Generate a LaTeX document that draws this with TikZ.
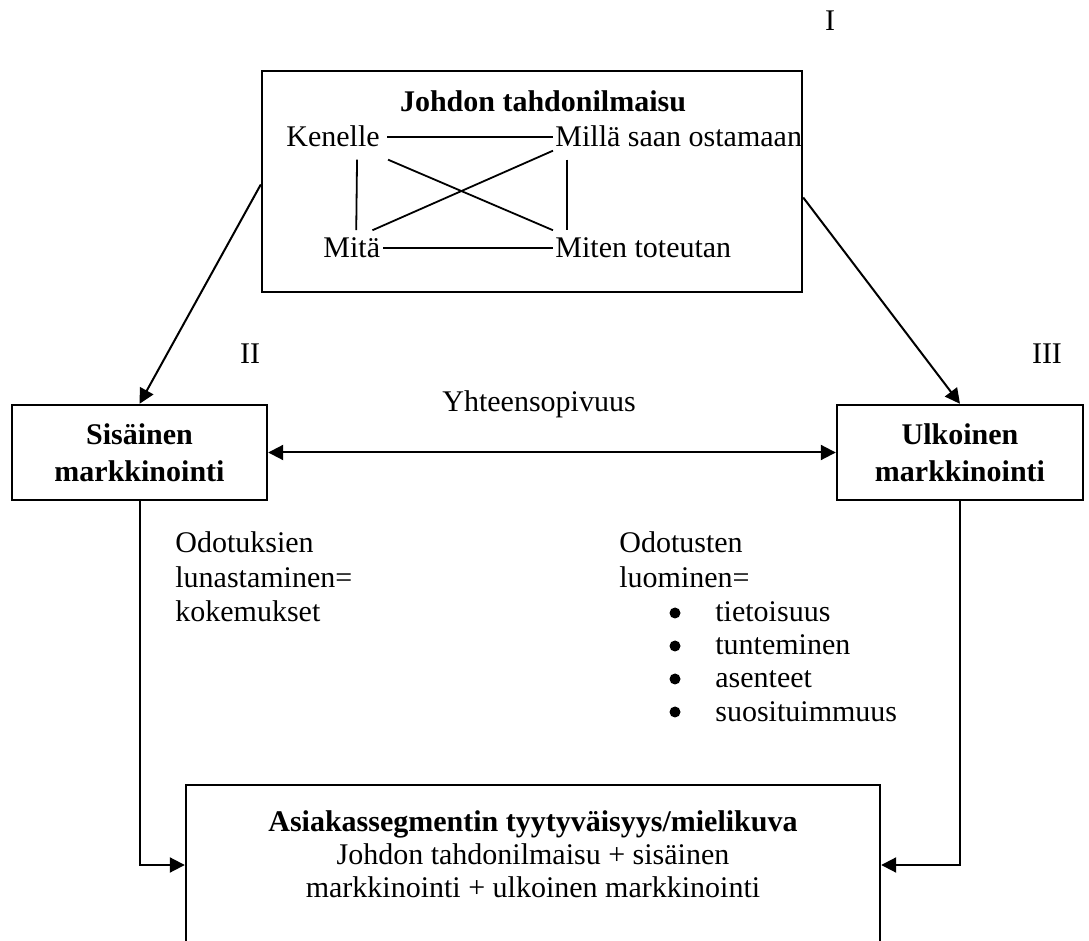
\documentclass[tikz,border=0pt]{standalone}
\usepackage{fontspec}
\setmainfont{Liberation Serif}
\usetikzlibrary{arrows.meta}
\begin{document}
\begin{tikzpicture}[x=0.5pt,y=-0.5pt,
  every node/.style={font=\fontsize{15}{18.5}\selectfont, inner sep=0pt},
  box/.style={draw, line width=1.2pt, rectangle},
  link/.style={line width=0.9pt},
  arr/.style={line width=1pt, -{Triangle[length=7.5pt,width=7.5pt]}},
  dbl/.style={line width=1pt, {Triangle[length=7.5pt,width=7.5pt]}-{Triangle[length=7.5pt,width=7.5pt]}},
  lbl/.style={anchor=base west},
  bul/.style={circle, fill, minimum size=5.5pt},
]
\useasboundingbox (0,0) rectangle (1089,941);

% level numbers
\node[anchor=base] (numI) at (830,31) {I};
\node[anchor=base] (numII) at (250,364) {II};
\node[anchor=base] (numIII) at (1047,364) {III};

% management box with the four questions
\node[box, minimum width=270pt, minimum height=110.5pt] (topbox) at (532,181.5) {};
\node[anchor=base] (ttl) at (543,112) {\textbf{Johdon tahdonilmaisu}};
\node[lbl] (ken) at (286,147) {Kenelle};
\node[lbl] (mil) at (555,147) {Millä saan ostamaan};
\node[lbl] (mita) at (323,258) {Mitä};
\node[lbl] (mit) at (555,258) {Miten toteutan};

\draw[link] ([xshift=3.5pt]ken.east) -- ([xshift=-1pt]mil.west);
\draw[link] ([xshift=1.5pt]mita.east) -- ([xshift=-1pt]mit.west);
\draw[link] ([xshift=12pt,yshift=-6pt]ken.south) -- ([xshift=2.25pt,yshift=3.75pt]mita.north);
\draw[link] ([xshift=6pt,yshift=-6pt]mil.south west) -- ([xshift=6pt,yshift=3.75pt]mit.north west);
\draw[link] ([xshift=4pt,yshift=-6pt]ken.south east) -- ([xshift=-1pt,yshift=3.75pt]mit.north west);
\draw[link] ([xshift=-1pt,yshift=-1.5pt]mil.south west) -- ([xshift=-4pt,yshift=3.75pt]mita.north east);

% marketing boxes
\node[box, minimum width=127.5pt, minimum height=47.5pt, align=center] (sis) at (139.5,452.5)
  {\textbf{Sisäinen}\\\textbf{markkinointi}};
\node[box, minimum width=123pt, minimum height=47.5pt, align=center] (ulk) at (960,452.5)
  {\textbf{Ulkoinen}\\\textbf{markkinointi}};
\node[lbl] (yht) at (442,412) {Yhteensopivuus};

% customer segment box
\node[box, minimum width=347pt, minimum height=80pt] (bot) at (533,865) {};
\node[anchor=base] (b1) at (533,831) {\textbf{Asiakassegmentin tyytyväisyys/mielikuva}};
\node[anchor=base] (b2) at (533,864) {Johdon tahdonilmaisu + sisäinen};
\node[anchor=base] (b3) at (533,897) {markkinointi + ulkoinen markkinointi};

% left column text
\node[lbl] (l1) at (175,553) {Odotuksien};
\node[lbl] (l2) at (175,587.5) {lunastaminen=};
\node[lbl] (l3) at (175,622) {kokemukset};

% right column text with bullet list
\node[lbl] (r1) at (619,553) {Odotusten};
\node[lbl] (r2) at (619,587.5) {luominen=};
\node[bul] (p1) at (675,613) {};
\node[bul] (p2) at (675,646) {};
\node[bul] (p3) at (675,679) {};
\node[bul] (p4) at (675,712) {};
\node[lbl] (t1) at (715,622) {tietoisuus};
\node[lbl] (t2) at (715,655) {tunteminen};
\node[lbl] (t3) at (715,688) {asenteet};
\node[lbl] (t4) at (715,721) {suosituimmuus};

% connectors
\draw[arr] ([yshift=-1.5pt]topbox.west) -- (sis.north);
\draw[arr] ([yshift=-8pt]topbox.east) -- (ulk.north);
\draw[dbl] (sis.east) -- (ulk.west);
\draw[arr] (sis.south) |- (bot.west);
\draw[arr] (ulk.south) |- (bot.east);
\end{tikzpicture}
\end{document}
